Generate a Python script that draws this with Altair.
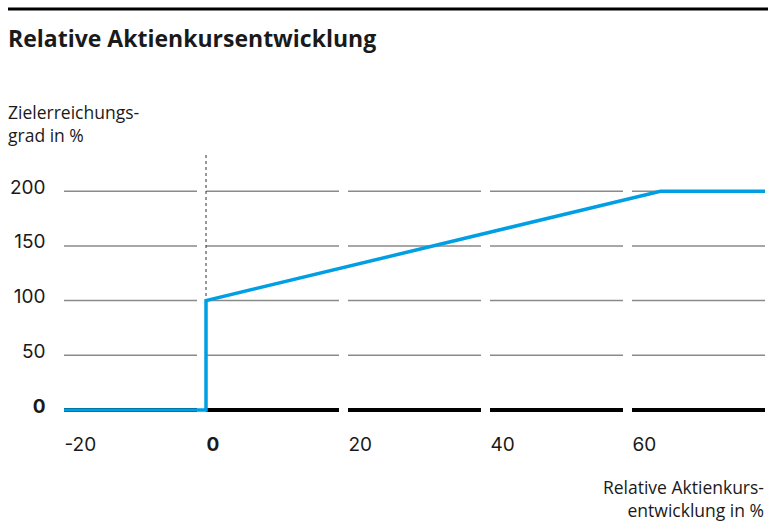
import altair as alt
import pandas as pd

# Payout curve: target achievement (%) vs relative share price development (%)
curve_x = [-20, 0, 0, 64, 78.73]
curve_y = [0, 0, 100, 200, 200]

x_ticks = [-20, 0, 20, 40, 60]
y_ticks = [0, 50, 100, 150, 200]
x_domain = [-20, 78.73]
y_top = 234
seg_gap = 1.27  # gap before each tick, in x units

FONT = "Inter"
TEXT_FONT = "Open Sans"
INK = "#1a1a1a"
BLUE = "#009fe3"

curve = pd.DataFrame({"x": curve_x, "y": curve_y, "order": range(len(curve_x))})

grid = pd.DataFrame(
    [{"x": s, "x2": s + 20 - seg_gap, "y": v} for v in y_ticks[1:] for s in x_ticks]
)
base = pd.DataFrame([{"x": s, "x2": s + 20 - seg_gap, "y": 0} for s in x_ticks])

xs = alt.Scale(domain=x_domain, nice=False, zero=False)
ys = alt.Scale(domain=[0, y_top], nice=False, zero=False)

bold_zero = {"condition": {"test": "datum.value == 0", "value": "bold"}, "value": "normal"}

x_axis = alt.Axis(
    values=x_ticks, title=None, domain=False, ticks=False, grid=False,
    labelAlign="left", labelBaseline="alphabetic", labelPadding=40,
    labelFont=FONT, labelFontSize=19, labelColor=INK,
    labelFontWeight=bold_zero, labelFlush=False,
    labelExpr="replace(datum.label, '\u2212', '-')",
)
y_axis = alt.Axis(
    values=y_ticks, title=None, domain=False, ticks=False, grid=False,
    labelAlign="right", labelBaseline="alphabetic", labelPadding=19,
    labelOffset=2, labelFont=FONT, labelFontSize=19, labelColor=INK,
    labelFontWeight=bold_zero,
)

grid_layer = alt.Chart(grid).mark_rule(color="#8a8a8a", strokeWidth=1.5).encode(
    x=alt.X("x:Q", scale=xs, axis=x_axis),
    x2="x2:Q",
    y=alt.Y("y:Q", scale=ys, axis=y_axis),
)

base_layer = alt.Chart(base).mark_rule(color="#000000", strokeWidth=4).encode(
    x=alt.X("x:Q", scale=xs, axis=x_axis),
    x2="x2:Q",
    y=alt.Y("y:Q", scale=ys, axis=y_axis),
)

zero_line = alt.Chart(pd.DataFrame({"x": [0], "y": [0], "y2": [y_top]})).mark_rule(
    color="#333333", strokeWidth=1, strokeDash=[3, 3]
).encode(
    x=alt.X("x:Q", scale=xs, axis=x_axis),
    y=alt.Y("y:Q", scale=ys, axis=y_axis),
    y2="y2:Q",
)

line_layer = alt.Chart(curve).mark_line(
    color=BLUE, strokeWidth=3.5, strokeJoin="miter", strokeCap="butt"
).encode(
    x=alt.X("x:Q", scale=xs, axis=x_axis),
    y=alt.Y("y:Q", scale=ys, axis=y_axis),
    order="order:Q",
)

top_rule = alt.Chart(pd.DataFrame({"a": [0]})).mark_rule(
    color="#000000", strokeWidth=3
).encode(x=alt.value(-56), x2=alt.value(704), y=alt.value(-145))

title = alt.Chart(pd.DataFrame({"a": [0]})).mark_text(
    text="Relative Aktienkursentwicklung", align="left", baseline="alphabetic",
    font=TEXT_FONT, fontSize=23, fontWeight="bold", color=INK,
).encode(x=alt.value(-56), y=alt.value(-107))

y_title = alt.Chart(pd.DataFrame({"a": [0]})).mark_text(
    text=["Zielerreichungs-", "grad in %"], align="left", baseline="alphabetic",
    lineHeight=22.5, font=TEXT_FONT, fontSize=17.5, color=INK,
).encode(x=alt.value(-56), y=alt.value(-35))

x_title = alt.Chart(pd.DataFrame({"a": [0]})).mark_text(
    text=["Relative Aktienkurs-", "entwicklung in %"], align="right", baseline="alphabetic",
    lineHeight=22.5, font=TEXT_FONT, fontSize=17.5, color=INK,
).encode(x=alt.value(700), y=alt.value(340))

chart = alt.layer(
    grid_layer, base_layer, zero_line, line_layer, top_rule, title, y_title, x_title
).properties(
    width=701,
    height=256,
    autosize=alt.AutoSizeParams(type="none"),
    padding={"left": 64, "top": 154, "right": 3, "bottom": 113},
    background="white",
).configure_view(stroke=None)

chart.save("out.html", embed_options={"renderer": "svg", "actions": False})
